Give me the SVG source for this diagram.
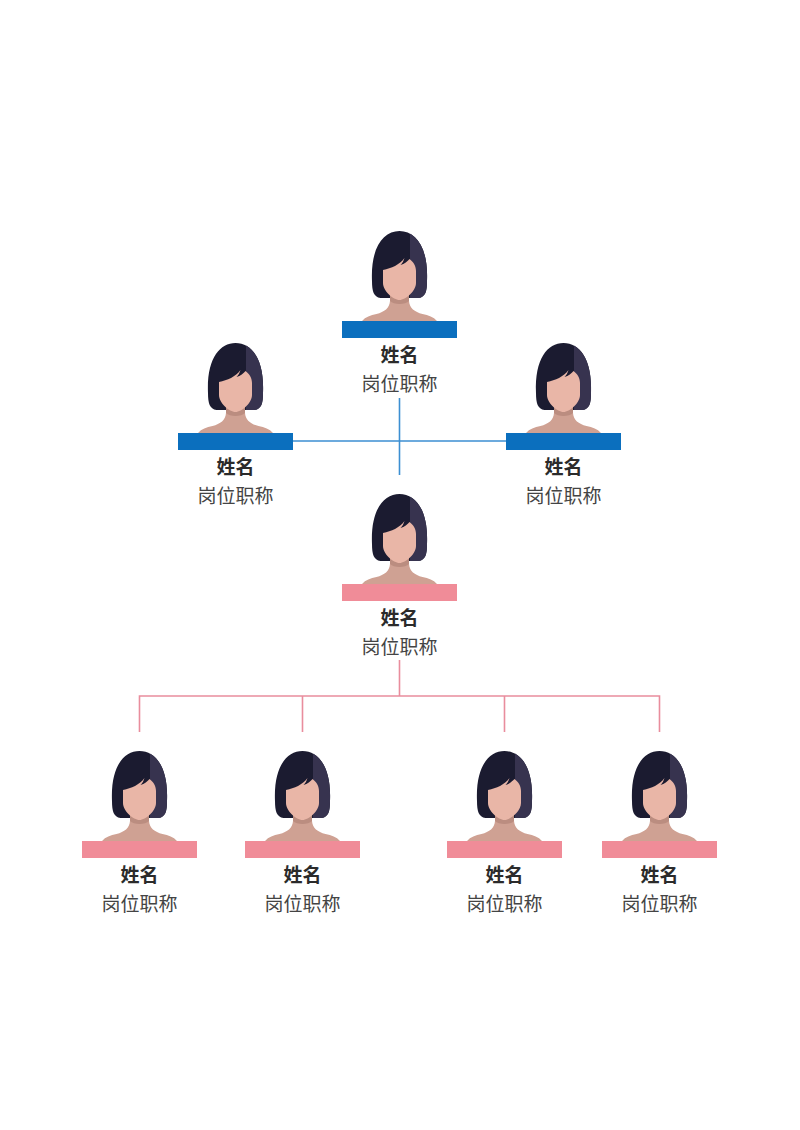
<svg xmlns="http://www.w3.org/2000/svg" width="800" height="1130" viewBox="0 0 800 1130">
<style>
.name{font:bold 19px "Noto Sans CJK SC","Noto Sans",sans-serif;fill:#2b2b2b;text-anchor:middle}
.role{font:19px "Noto Sans CJK SC","Noto Sans",sans-serif;fill:#444;text-anchor:middle}
.blue{fill:#0b6fbe}.pink{fill:#f08c98}
.cb{stroke:#3c8fd2;stroke-width:1.6;fill:none}
.cp{stroke:#e98d9d;stroke-width:1.6;fill:none}
</style>
<defs>
<clipPath id="hc"><path d="M-27.5,-40C-29,-74-16,-90 0,-90C16,-90 29,-74 27.5,-40C27.5,-30 26,-24 19,-23L-19,-23C-26,-24-27.5,-30-27.5,-40Z"/></clipPath>
<g id="av">
<path d="M-27.5,-40C-29,-74-16,-90 0,-90C16,-90 29,-74 27.5,-40C27.5,-30 26,-24 19,-23L-19,-23C-26,-24-27.5,-30-27.5,-40Z" fill="#1b1b30"/>
<g clip-path="url(#hc)"><path d="M10.5,-92H40V-15H10.5Z" fill="#37334f"/></g>
<path d="M-9.5,-30H9.5V-20C10,-13 15,-9 23,-7C29,-6 34,-4 37.5,0H-37.5C-34,-4-29,-6-23,-7C-15,-9-10,-13-9.5,-20Z" fill="#cfa193"/>
<path d="M-9.5,-28H9.5V-20C6,-16-6,-16-9.5,-20Z" fill="#bb8d80"/>
<path d="M-16.5,-51C-8,-53 0,-56 5,-63C4,-60 3,-58 1,-56C5,-57 8,-60 10,-62C14,-59 16.5,-55 16.5,-50V-38C16.5,-30 6,-21 0,-21C-6,-21-16.5,-30-16.5,-38Z" fill="#e9b6a7"/>
</g>
</defs>
<g id="connectors">
<path class="cb" d="M399.5,398V475M293,441H506"/>
<path class="cp" d="M399.5,660V696M139.5,732V696H659.5V732M302.5,696V732M504.5,696V732"/>
</g>
<g id="n1" transform="translate(399.5,321)"><use href="#av"/><rect class="blue" x="-57.5" width="115" height="17"/><text class="name" y="41">姓名</text><text class="role" y="70">岗位职称</text></g>
<g id="n2" transform="translate(235.5,433)"><use href="#av"/><rect class="blue" x="-57.5" width="115" height="17"/><text class="name" y="41">姓名</text><text class="role" y="70">岗位职称</text></g>
<g id="n3" transform="translate(563.5,433)"><use href="#av"/><rect class="blue" x="-57.5" width="115" height="17"/><text class="name" y="41">姓名</text><text class="role" y="70">岗位职称</text></g>
<g id="n4" transform="translate(399.5,584)"><use href="#av"/><rect class="pink" x="-57.5" width="115" height="17"/><text class="name" y="41">姓名</text><text class="role" y="70">岗位职称</text></g>
<g id="n5" transform="translate(139.5,841)"><use href="#av"/><rect class="pink" x="-57.5" width="115" height="17"/><text class="name" y="41">姓名</text><text class="role" y="70">岗位职称</text></g>
<g id="n6" transform="translate(302.5,841)"><use href="#av"/><rect class="pink" x="-57.5" width="115" height="17"/><text class="name" y="41">姓名</text><text class="role" y="70">岗位职称</text></g>
<g id="n7" transform="translate(504.5,841)"><use href="#av"/><rect class="pink" x="-57.5" width="115" height="17"/><text class="name" y="41">姓名</text><text class="role" y="70">岗位职称</text></g>
<g id="n8" transform="translate(659.5,841)"><use href="#av"/><rect class="pink" x="-57.5" width="115" height="17"/><text class="name" y="41">姓名</text><text class="role" y="70">岗位职称</text></g>
</svg>
